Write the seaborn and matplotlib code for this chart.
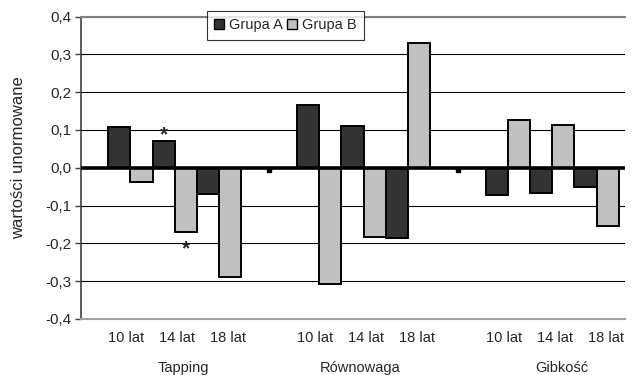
import numpy as np
import pandas as pd
import seaborn as sns
import matplotlib
matplotlib.use("Agg")
import matplotlib.pyplot as plt
import matplotlib.transforms as mtransforms
from matplotlib.patches import Patch

# Data
tests = ["Tapping", "Równowaga", "Gibkość"]
ages = ["10 lat", "14 lat", "18 lat"]
groups = ["Grupa A", "Grupa B"]
grupa_a = [0.107, 0.070, -0.069, 0.167, 0.110, -0.186, -0.072, -0.066, -0.050]
grupa_b = [-0.039, -0.169, -0.288, -0.307, -0.183, 0.331, 0.125, 0.113, -0.153]
significant = [("Tapping", "14 lat", "Grupa A"), ("Tapping", "14 lat", "Grupa B")]
yticks = [-0.4, -0.3, -0.2, -0.1, 0.0, 0.1, 0.2, 0.3, 0.4]

colors = {"Grupa A": "#333333", "Grupa B": "#c0c0c0"}
GROUP_STEP = 4.26  # distance between test groups, in age-slot units

rows = []
for i, test in enumerate(tests):
    for j, age in enumerate(ages):
        k = i * len(ages) + j
        pos = i * GROUP_STEP + j
        rows.append({"test": test, "age": age, "pos": pos, "grupa": "Grupa A", "value": grupa_a[k]})
        rows.append({"test": test, "age": age, "pos": pos, "grupa": "Grupa B", "value": grupa_b[k]})
df = pd.DataFrame(rows)

sns.set_style("white")
plt.rcParams["font.family"] = ["Liberation Sans", "DejaVu Sans"]

fig = plt.figure(figsize=(6.35, 3.75), dpi=100)
ax = fig.add_axes([81 / 635, 1 - 319 / 375, 544 / 635, 302.5 / 375])

sns.barplot(data=df, x="pos", y="value", hue="grupa", hue_order=groups,
            palette=colors, native_scale=True, width=1.0, errorbar=None,
            edgecolor="black", linewidth=1.4, legend=False, ax=ax, zorder=2)

ax.set_xlim(-1.117, 11.16)
ax.set_ylim(-0.4, 0.4)

# grid + axes
ax.set_axisbelow(True)
ax.set_yticks(yticks)
ax.set_yticklabels([f"{v:.1f}".replace(".", ",") for v in yticks], fontsize=11)
ax.yaxis.grid(True, color="black", linewidth=0.8)
ax.tick_params(axis="y", left=True, length=4, width=1, color="#404040", pad=3)
ax.axhline(0, color="black", linewidth=2.6, zorder=3)
ax.spines["right"].set_visible(False)
ax.spines["left"].set_color("#404040")
ax.spines["left"].set_linewidth(1.2)
ax.spines["top"].set_color("#808080")
ax.spines["top"].set_linewidth(1.5)
ax.spines["bottom"].set_color("#a0a0a0")
ax.spines["bottom"].set_linewidth(1.5)

# small marks between test groups on the zero line
gaps = [(i * GROUP_STEP + len(ages) - 1 + (i + 1) * GROUP_STEP) / 2 for i in range(len(tests) - 1)]
ax.plot(gaps, [-0.006] * len(gaps), linestyle="none", marker="s", markersize=2.5,
        color="black", zorder=4)

# x labels
tick_pos, tick_lab = [], []
for i, test in enumerate(tests):
    for j, age in enumerate(ages):
        tick_pos.append(i * GROUP_STEP + j + (j - 1) * 0.15 + 0.05)
        tick_lab.append(age)
ax.set_xticks(tick_pos)
ax.set_xticklabels(tick_lab, fontsize=10.5)
ax.tick_params(axis="x", bottom=False, length=0, pad=9)
ax.set_xlabel("")

trans = mtransforms.blended_transform_factory(ax.transData, ax.transAxes)
shifts = [0.2, -0.07, 0.22]
for i, test in enumerate(tests):
    ax.text(i * GROUP_STEP + 1 + shifts[i], -0.139, test, transform=trans, ha="center", va="top",
            fontsize=10.5)

ax.set_ylabel("wartości unormowane", fontsize=12)
ax.yaxis.set_label_coords(-0.101, 0.535)

# significance stars
offsets = {"Grupa A": -0.25, "Grupa B": 0.25}
for test, age, grp in significant:
    row = df[(df.test == test) & (df.age == age) & (df.grupa == grp)].iloc[0]
    x = row.pos + offsets[grp]
    if row.value >= 0:
        ax.text(x, row.value - 0.008, "*", ha="center", va="bottom", fontsize=15, fontweight="bold")
    else:
        ax.text(x, row.value - 0.07, "*", ha="center", va="bottom", fontsize=15, fontweight="bold")

handles = [Patch(facecolor=colors[g], edgecolor="black", linewidth=1.0) for g in groups]
leg = ax.legend(handles, groups, loc="upper left", bbox_to_anchor=(0.2316, 1.018), ncol=2,
                fontsize=10.5, frameon=True, fancybox=False, edgecolor="black",
                handlelength=0.7, handleheight=0.7, handletextpad=0.3, columnspacing=0.3,
                borderpad=0.5, borderaxespad=0)
leg.get_frame().set_linewidth(0.8)

fig.savefig("out.png", dpi=100)
